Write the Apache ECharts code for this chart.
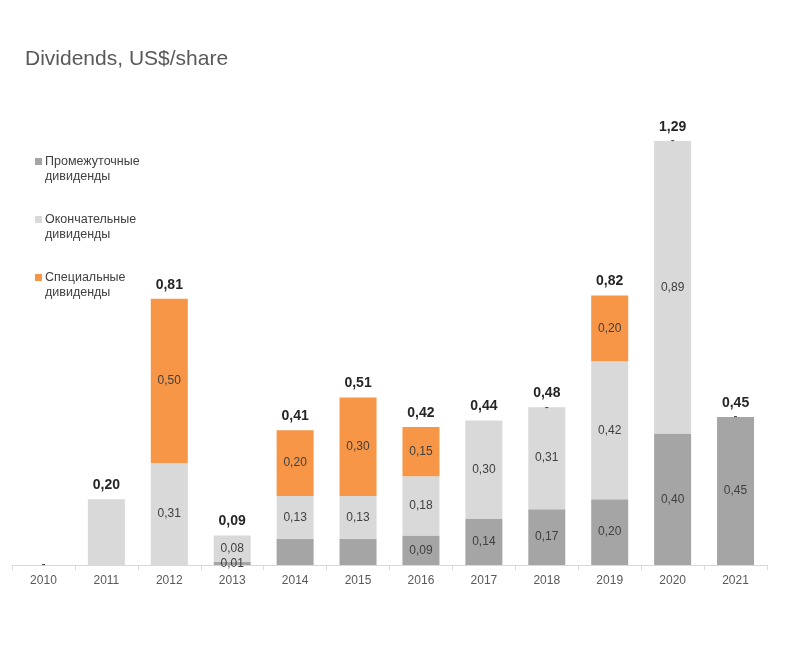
<!DOCTYPE html>
<html>
<head>
<meta charset="utf-8">
<script src="https://cdn.jsdelivr.net/npm/echarts@6/dist/echarts.min.js"></script>
<style>html,body{margin:0;padding:0;background:#fff}#c{width:787px;height:661px}</style>
</head>
<body>
<div id="c"></div>
<script>
const years = ['2010','2011','2012','2013','2014','2015','2016','2017','2018','2019','2020','2021'];
const interim = [0, 0, 0, 0.01, 0.08, 0.08, 0.09, 0.14, 0.17, 0.20, 0.40, 0.45];
const finalDiv = [0, 0.20, 0.31, 0.08, 0.13, 0.13, 0.18, 0.30, 0.31, 0.42, 0.89, 0];
const special = [0, 0, 0.50, 0, 0.20, 0.30, 0.15, 0, 0, 0.20, 0, 0];
const totals = [0, 0.20, 0.81, 0.09, 0.41, 0.51, 0.42, 0.44, 0.48, 0.82, 1.29, 0.45];
// which value labels are shown in the source
const interimLabelShown = [false,false,false,true,false,false,true,true,true,true,true,true];
const finalLabelShown = [false,false,true,true,true,true,true,true,true,true,true,false];
const specialLabelShown = [false,false,true,false,true,true,true,false,false,true,false,false];
const dashShown = [true,false,false,false,false,false,false,false,true,false,true,true];
const totalShown = [false,true,true,true,true,true,true,true,true,true,true,true];

const fmt = v => v.toFixed(2).replace('.', ',');
const names = ['Промежуточные\nдивиденды', 'Окончательные\nдивиденды', 'Специальные\nдивиденды'];
const colors = ['#a5a5a5', '#d9d9d9', '#f79646'];

function items(vals, shown) {
  return vals.map((v, i) => ({ value: v, label: { show: shown[i] } }));
}
const innerLabel = { position: 'inside', color: '#404040', fontSize: 12, fontFamily: 'Liberation Sans, Arial', formatter: p => fmt(p.value) };

const chart = echarts.init(document.getElementById('c'));
chart.setOption({
  animation: false,
  title: { text: 'Dividends, US$/share', left: 20, top: 44, textStyle: { fontSize: 21, fontWeight: 'normal', color: '#595959', fontFamily: 'Liberation Sans, Arial' } },
  legend: {
    orient: 'vertical', left: 30, top: 149, itemWidth: 7, itemHeight: 22, itemGap: 28,
    icon: 'path://M0,0h7v7h-7z M0,21.99h0.01v0.01h-0.01z',
    data: names,
    textStyle: { fontSize: 12.5, color: '#404040', lineHeight: 15, fontFamily: 'Liberation Sans, Arial', padding: [0,0,0,-2] }
  },
  grid: { left: 12, right: 20, top: 72, bottom: 96 },
  xAxis: {
    type: 'category', data: years,
    axisLine: { lineStyle: { color: '#d9d9d9' } },
    axisTick: { show: true, lineStyle: { color: '#d9d9d9' }, length: 5 },
    axisLabel: { color: '#595959', fontSize: 12, margin: 10, fontFamily: 'Liberation Sans, Arial' }
  },
  yAxis: { type: 'value', min: 0, max: 1.5, show: false, splitLine: { show: false } },
  series: [
    { name: names[0], type: 'bar', stack: 't', barWidth: 37, itemStyle: { color: colors[0] }, label: innerLabel, data: items(interim, interimLabelShown) },
    { name: names[1], type: 'bar', stack: 't', itemStyle: { color: colors[1] }, label: innerLabel, data: items(finalDiv, finalLabelShown) },
    { name: names[2], type: 'bar', stack: 't', itemStyle: { color: colors[2] }, label: innerLabel, data: items(special, specialLabelShown) },
    { name: 'dash', type: 'bar', stack: 't', itemStyle: { color: 'rgba(0,0,0,0)' },
      label: { position: 'inside', color: '#404040', fontSize: 12, formatter: '-', fontFamily: 'Liberation Sans, Arial' },
      data: totals.map((v, i) => ({ value: 0, label: { show: dashShown[i] } })) },
    { name: 'total', type: 'bar', stack: 't', itemStyle: { color: 'rgba(0,0,0,0)' },
      label: { position: 'top', distance: 7, color: '#262626', fontSize: 14, fontWeight: 'bold', fontFamily: 'Liberation Sans, Arial', formatter: p => fmt(totals[p.dataIndex]) },
      data: totals.map((v, i) => ({ value: 0, label: { show: totalShown[i] } })) }
  ]
});
</script>
</body>
</html>
